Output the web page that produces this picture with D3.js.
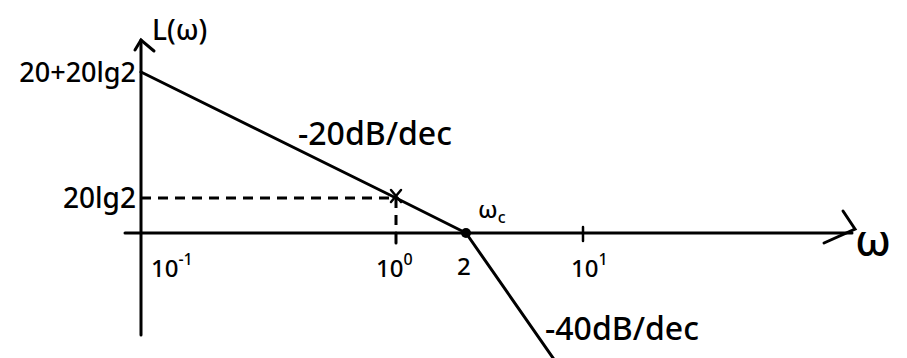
<!DOCTYPE html>
<html>
<head>
<meta charset="utf-8">
<script src="https://cdn.jsdelivr.net/npm/d3@7/dist/d3.min.js"></script>
<style>
  html, body { margin: 0; padding: 0; background: #fff; }
  svg { display: block; }
  text { font-family: "Noto Sans", "DejaVu Sans", sans-serif; fill: #000; font-weight: 500; }
</style>
</head>
<body>
<svg id="chart" width="907" height="358"></svg>
<script>
// Asymptotic Bode magnitude plot: corner frequency at ω = 2
const lg2 = 20 * Math.log10(2);              // 20lg2 ≈ 6.02 dB
const freqs = [0.1, 1, 2, 7];                 // ω breakpoints of the asymptote
const gains = [20 + lg2, lg2, 0, -40 * Math.log10(7 / 2)]; // L(ω) in dB
const slopeLabels = ["-20dB/dec", "-40dB/dec"];
const tickFreqs = [0.1, 1, 10];
const tickLabels = ["10", "10", "10"];
const tickExps = ["-1", "0", "1"];
const cornerFreq = 2;
const markFreq = 1;

const svg = d3.select("#chart");

// Sketch-style axes: piecewise log / linear scales
const x = d3.scaleLog().domain([0.1, 1, 2, 10]).range([141, 396, 466, 583]);
const y = d3.scaleLinear().domain([-40 * Math.log10(5), 0, lg2, 20 + lg2]).range([401, 233, 198, 72]);

const ink = "#000";
const g = svg.append("g").attr("stroke", ink).attr("stroke-linecap", "round").attr("fill", "none");

// vertical axis with arrow
g.append("line").attr("x1", x(0.1)).attr("x2", x(0.1)).attr("y1", 335).attr("y2", 40).attr("stroke-width", 3);
g.append("path").attr("d", `M${x(0.1) - 6},50 L${x(0.1)},40 L${x(0.1) + 13},51`).attr("stroke-width", 3);

// horizontal axis with arrow
g.append("line").attr("x1", 125).attr("x2", 852).attr("y1", y(0)).attr("y2", y(0)).attr("stroke-width", 3);
g.append("path").attr("d", `M843,${y(0) - 22} L855,${y(0) - 4} L824,${y(0) + 10}`).attr("stroke-width", 3);

// tick marks
g.append("line").attr("x1", x(1)).attr("x2", x(1)).attr("y1", y(0)).attr("y2", y(0) + 10).attr("stroke-width", 3);
g.append("line").attr("x1", x(10)).attr("x2", x(10)).attr("y1", y(0) - 6).attr("y2", y(0) + 8).attr("stroke-width", 2.5);

// dashed guides to the point (1, 20lg2)
g.append("path")
  .attr("d", `M${x(0.1)},${y(lg2)} H${x(markFreq)} V${y(0)}`)
  .attr("stroke-width", 3).attr("stroke-dasharray", "10,7").attr("stroke-linecap", "butt");

// asymptote
const line = d3.line().x((d, i) => x(freqs[i])).y((d, i) => y(gains[i]));
g.append("path").datum(gains).attr("d", line).attr("stroke-width", 3).attr("stroke-linejoin", "round");

// cross mark at ω = 1
const cx = x(markFreq), cy = y(lg2) - 2;
g.append("path").attr("d", `M${cx - 5},${cy - 6} L${cx + 5},${cy + 6} M${cx + 5},${cy - 6} L${cx - 5},${cy + 6}`).attr("stroke-width", 2.5);

// corner point
svg.append("circle").attr("cx", x(cornerFreq)).attr("cy", y(0)).attr("r", 5).attr("fill", ink);

// labels
const t = svg.append("g").attr("font-size", 26);
t.append("text").attr("x", 152).attr("y", 40).attr("font-size", 28).text("L(ω)");
t.append("text").attr("x", 136).attr("y", y(20 + lg2) + 10).attr("text-anchor", "end").attr("font-size", 27).text("20+20lg2");
t.append("text").attr("x", 136).attr("y", y(lg2) + 10).attr("text-anchor", "end").attr("font-size", 28).text("20lg2");
t.append("text").attr("x", 298).attr("y", 145).attr("font-size", 32).text(slopeLabels[0]);
t.append("text").attr("x", 545).attr("y", 340).attr("font-size", 32).text(slopeLabels[1]);
t.append("text").attr("x", 855).attr("y", 256).attr("font-size", 44).text("ω");

// ω_c label
const wc = t.append("text").attr("x", x(cornerFreq) + 12).attr("y", 218).attr("font-size", 24);
wc.append("tspan").text("ω");
wc.append("tspan").attr("dy", 5).attr("font-size", 16).text("c");

// decade tick labels
tickFreqs.forEach((f, i) => {
  const lx = [x(f) + 10, x(f) - 20, x(f) - 12][i];
  const tx = t.append("text").attr("x", lx).attr("y", 277).attr("font-size", 24);
  tx.append("tspan").text(tickLabels[i]);
  tx.append("tspan").attr("dy", -12).attr("font-size", 16).text(tickExps[i]);
});
t.append("text").attr("x", x(cornerFreq) - 9).attr("y", 275).attr("font-size", 24).text(String(cornerFreq));
</script>
</body>
</html>
